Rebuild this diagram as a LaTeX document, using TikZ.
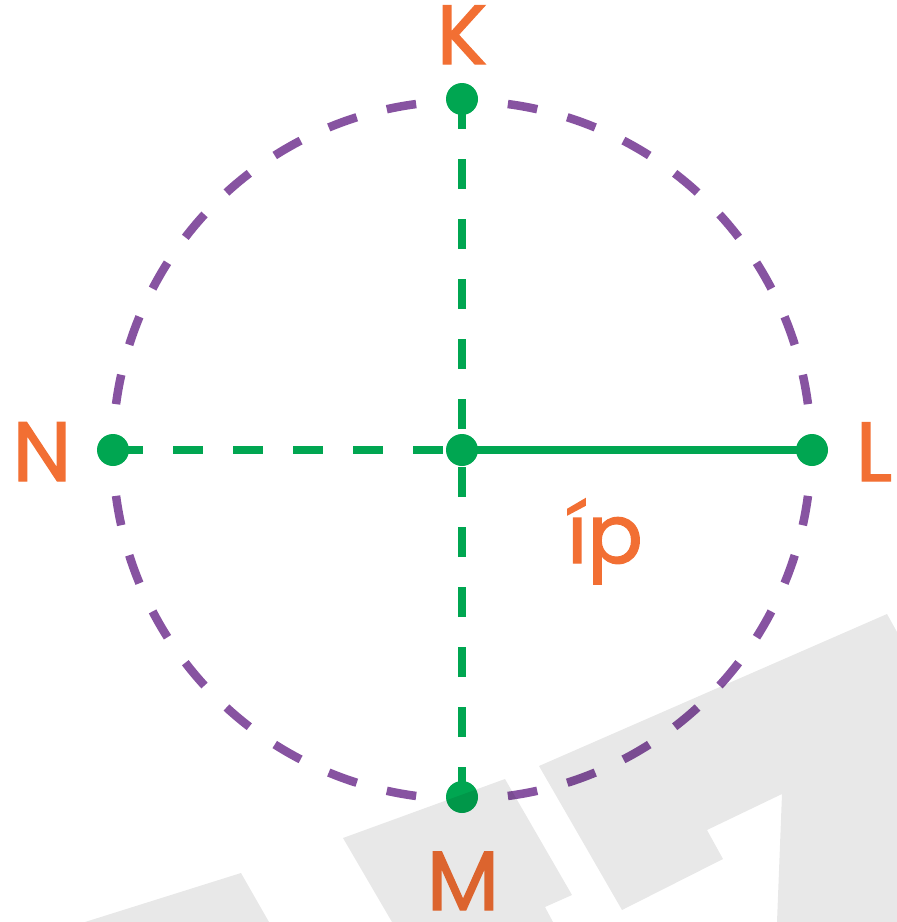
\documentclass[tikz,border=0pt]{standalone}
\usepackage{fontspec}
\setmainfont{Poppins}
\newfontfamily\lblfont[FakeBold=1.6]{Poppins}
\definecolor{cgreen}{HTML}{00A651}
\definecolor{cpurple}{HTML}{8753A1}
\definecolor{corange}{HTML}{F26F33}
\tikzset{
  dotnode/.style={circle, fill=cgreen, inner sep=0pt, minimum size=32pt},
  gline/.style={draw=cgreen, line width=8pt},
  gdash/.style={gline, dash pattern=on 30pt off 30pt},
  pdash/.style={draw=cpurple, line width=8.5pt},
  lbl/.style={text=corange, anchor=base, inner sep=0pt, font=\lblfont\fontsize{84}{84}\selectfont},
  wmark/.style={fill=black, fill opacity=0.09, draw=none}
}
\begin{document}
\begin{tikzpicture}[x=1pt, y=-1pt]
\useasboundingbox (0,0) rectangle (897,922);
% centre and points
\coordinate (O) at (462,450);
\coordinate (K) at (462,99);
\coordinate (M) at (462,797);
\coordinate (N) at (113,450);
\coordinate (L) at (812,450);
% purple dashed circle
\foreach \a in {10,20,...,350}{
  \pgfmathtruncatemacro{\r}{mod(\a,90)}
  \ifnum\r>0
    \draw[pdash] ([shift={(\a-2.45:349pt)}]O) arc[start angle=\a-2.45, end angle=\a+2.45, radius=349pt];
  \fi
}
% green lines
\draw[gdash] (K) -- (O);
\draw[gdash] (M) -- (O);
\draw[gdash] (N) -- (O);
\draw[gline] (O) -- (L);
% dots
\node[dotnode] (Kd) at (K) {};
\node[dotnode] (Md) at (M) {};
\node[dotnode] (Nd) at (N) {};
\node[dotnode] (Ld) at (L) {};
\node[dotnode] (Od) at (O) {};
% labels
\node[lbl] (Kt) at (462,64) {K};
\node[lbl] (Nt) at (42,481) {N};
\node[lbl] (Lt) at (874,481) {L};
\node[lbl] (Mt) at (463,910) {M};
\node[lbl, font=\lblfont\fontsize{82}{82}\selectfont] (ip) at (605,563) {íp};
% watermark
\fill[wmark] (85,922) -- (241,873) -- (269,922) -- cycle;
\fill[wmark] (392,922) -- (343,838) -- (505,779) -- (572,895) -- (545,907) -- (553,922) -- cycle;
\fill[wmark] (539,766) -- (887,614) -- (897,632) -- (897,922) -- (777,922) -- (782,794) -- (707,830) -- (723,859) -- (622,910) -- cycle;
\end{tikzpicture}
\end{document}
